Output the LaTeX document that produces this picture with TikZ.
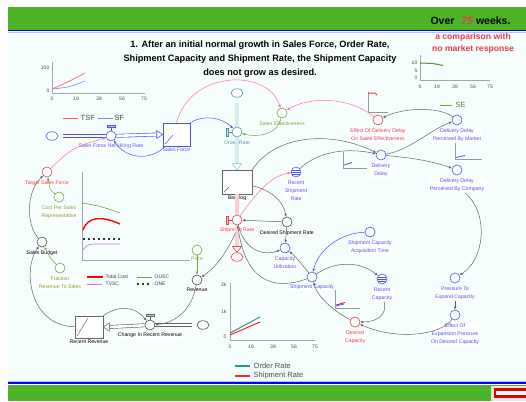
\documentclass[tikz,border=0pt]{standalone}
\usepackage{fontspec}
\setmainfont{Liberation Sans}
\usetikzlibrary{arrows.meta,shapes.geometric}
\definecolor{BarGreen}{RGB}{76,180,38}
\definecolor{PanelBg}{RGB}{245,253,253}
\definecolor{FlowBlue}{RGB}{80,80,245}
\definecolor{FlowRed}{RGB}{238,60,70}
\definecolor{LinkPink}{RGB}{255,110,165}
\definecolor{AuxGreen}{RGB}{115,165,55}
\definecolor{OrderTeal}{RGB}{135,200,200}
\definecolor{TealText}{RGB}{70,150,160}
\definecolor{TealLine}{RGB}{40,150,150}
\definecolor{LinkGray}{RGB}{100,100,100}
\definecolor{CostPurple}{RGB}{190,120,220}
\tikzset{
	aux/.style={circle,draw,fill=white,inner sep=0pt,minimum size=10pt,line width=0.6pt},
	ring/.style={aux,path picture={
		\foreach \h in {-2.2,0,2.2}
			\draw[line width=0.4pt] ([yshift=\h pt]path picture bounding box.west) -- ([yshift=\h pt]path picture bounding box.east);}},
	stock/.style={rectangle,draw,fill=white,line width=0.6pt,inner sep=0pt,
		path picture={\draw[line width=0.5pt] ([shift={(2pt,2pt)}]path picture bounding box.south west) -- ([shift={(#1)}]path picture bounding box.south west);}},
	sink/.style={ellipse,draw,fill=white,line width=0.6pt,minimum width=12pt,minimum height=8.5pt,inner sep=0pt},
	lab/.style={font=\fontsize{5.2}{8}\selectfont,align=center,inner sep=0.6pt,fill=white,label distance=3pt},
	link/.style={draw=LinkGray,line width=0.5pt,-{Latex[length=3pt,width=2.6pt]}},
	pipe/.style={line width=0.6pt,double distance=2.6pt},
	tick/.style={font=\fontsize{5}{5.5}\selectfont,text=black!70,inner sep=0.5pt},
	key/.style={font=\fontsize{7.5}{8}\selectfont,text=black!70,anchor=west,inner sep=0.5pt},
	smallkey/.style={font=\fontsize{5}{5.5}\selectfont,text=black!75,anchor=west,inner sep=0.5pt},
	axis/.style={draw=black!35,line width=0.7pt},
	minigraph/.style={draw=black!40,line width=0.5pt},
}

\begin{document}
\begin{tikzpicture}[x=1pt,y=-1pt]
	\useasboundingbox (0,0) rectangle (526,401);
	% frame and bars
	\fill[PanelBg] (8,31) rectangle (526,383);
	\fill[BarGreen] (8,7) rectangle (526,30);
	\draw[blue,line width=1.4pt] (8,30.5) -- (526,30.5);
	\draw[blue!25,line width=0.8pt] (8,32.4) -- (526,32.4);
	\draw[blue!25,line width=0.8pt] (8,381.2) -- (526,381.2);
	\draw[blue,line width=1.4pt] (8,383) -- (526,383);
	\fill[BarGreen] (8,384.5) rectangle (526,401);
	\fill[gray!20] (491,385.5) rectangle (526,401);
	\fill[red!90!black] (494,387.5) rectangle (526,398);
	\fill[white] (496,390.5) rectangle (526,395);

	\node[font=\bfseries\fontsize{10.5}{12}\selectfont,anchor=east] (weeks) at (514,20.5)
		{Over\hspace{7pt}\textcolor{FlowRed}{\itshape 75} weeks.};
	\node[font=\bfseries\fontsize{9.2}{14}\selectfont,align=center] (title) at (260,59)
		{1. After an initial normal growth in Sales Force, Order Rate,\\
		 Shipment Capacity and Shipment Rate, the Shipment Capacity\\
		 does not grow as desired.};

	% graph: TSF and SF
	\draw[axis] (52,62) -- (52,93) -- (145,93);
	\node[tick,anchor=east] (tlA) at (50,68) {100};
	\node[tick,anchor=east] (tlB) at (50,91) {0};
	\foreach \x/\t in {52/0,76/19,99/38,122/56,144/75}
		\node[tick] (tl\t) at (\x,98.5) {\t};
	\draw[red!65,line width=0.6pt] (52,89) .. controls (66,83) .. (85,73);
	\draw[FlowBlue!70,line width=0.6pt] (52,89) .. controls (70,87) .. (85,81);
	\draw[red!65,line width=0.8pt] (63,118) -- (78,118);
	\node[key] (tsfkey) at (80,118) {TSF};
	\draw[FlowBlue!70,line width=0.8pt] (98,118) -- (113,118);
	\node[key] (sfkey) at (114,118) {SF};

	% graph: SE
	\draw[axis] (420,55) -- (420,80) -- (490,80);
	\node[tick,anchor=east] (trA) at (418,63) {10};
	\node[tick,anchor=east] (trB) at (418,71) {5};
	\node[tick,anchor=east] (trC) at (418,78) {0};
	\foreach \x/\t in {420/0,437/19,455/38,473/56,490/75}
		\node[tick] (tr\t) at (\x,86.5) {\t};
	\draw[AuxGreen!85!black,line width=1pt] (420,63) -- (433,63.5) .. controls (438,64) .. (443,65.5);
	\draw[AuxGreen,line width=1pt] (440,105) -- (452,105);
	\node[key,text=AuxGreen!80!black] (sekey) at (455,105) {SE};
	\node[font=\bfseries\fontsize{8.6}{12.5}\selectfont,text=FlowRed,align=center] (note) at (473,43.5)
		{a comparison with\\no market response};

	% graph: sales costs
	\draw[axis] (82,172) -- (82,260) -- (190,260);
	\draw[AuxGreen,line width=0.6pt] (82,203) .. controls (100,206) .. (120,213);
	\draw[red,line width=1.4pt] (83,230) .. controls (88,216) and (102,216) .. (120,224);
	\draw[black!80,line width=1.6pt,dash pattern=on 1.6pt off 3.4pt] (83,239) -- (120,239);
	\draw[CostPurple,line width=0.6pt] (83,250) .. controls (88,244) .. (100,244) -- (120,244);
	\draw[red,line width=1.4pt] (87,277) -- (103,277);
	\node[smallkey] (tckey) at (105,277) {Total Cost};
	\draw[AuxGreen,line width=0.6pt] (137,277) -- (152,277);
	\node[smallkey] (oukey) at (154,277) {OUSC};
	\draw[CostPurple,line width=0.6pt] (87,284) -- (102,284);
	\node[smallkey] (tvkey) at (105,284) {TVSC};
	\draw[black!80,line width=1.6pt,dash pattern=on 1.6pt off 3.4pt] (137,284) -- (152,284);
	\node[smallkey] (onekey) at (154,284) {ONE};

	% graph: order and shipment rate
	\draw[axis] (230,283) -- (230,340) -- (315,340);
	\node[tick,anchor=east] (tbA) at (227,285) {2k};
	\node[tick,anchor=east] (tbB) at (227,312) {1k};
	\node[tick,anchor=east] (tbC) at (227,337) {0};
	\foreach \x/\t in {230/0,251/19,273/38,294/56,315/75}
		\node[tick] (tb\t) at (\x,346.5) {\t};
	\draw[TealLine,line width=1pt] (230,333) .. controls (245,325) .. (260,317);
	\draw[red!85,line width=1pt] (230,335) .. controls (245,329) .. (260,322);
	\draw[TealLine,line width=1.1pt] (235,366) -- (250,366);
	\node[key] (orkey) at (253,366) {Order Rate};
	\draw[red!85,line width=1.1pt] (235,376) -- (250,376);
	\node[key] (srkey) at (253,376) {Shipment Rate};

	% small graphs beside variables
	\draw[minigraph] (368,92) -- (368,112) -- (388,112);
	\draw[FlowRed,line width=1pt] (368,93) -- (375,93) -- (377,95);
	\draw[minigraph] (343,152) -- (343,168) -- (367,168);
	\draw[FlowBlue,line width=0.8pt] (344,165) .. controls (348,164) .. (352,162.5);
	\draw[minigraph] (455,140) -- (455,159) -- (482,159);
	\draw[FlowBlue,line width=0.8pt] (456,157.5) .. controls (460,156.5) .. (465,155.5);
	\draw[minigraph] (335,290) -- (335,308) -- (360,308);
	\draw[red,line width=0.8pt] (336,305) -- (345,302.5);
	\draw[FlowBlue,line width=0.8pt] (336,306) -- (344,304);

	% sales force chain
	\node[sink,draw=FlowBlue] (cloudL) at (52,136) {};
	\node[aux,draw=FlowBlue,label={[lab,text=FlowBlue,label distance=2pt]below:Sales Force Net Hiring Rate}] (sfnhr) at (111,136) {};
	\node[stock={10pt,11pt},draw=FlowBlue,minimum width=27pt,minimum height=23pt,
		label={[lab,text=FlowBlue,label distance=1pt]below:Sales Force}] (salesforce) at (176.5,134.5) {};
	\node[aux,draw=FlowRed,label={[lab,text=FlowRed]below:Target Sales Force}] (tsf) at (47,172) {};
	\node[aux,draw=AuxGreen,label={[lab,text=AuxGreen]below:{Cost Per Sales\\Representative}}] (costrep) at (59,197) {};
	\node[aux,draw=black!70,label={[lab]below:Sales Budget}] (budget) at (42,242) {};
	\node[aux,draw=AuxGreen,label={[lab,text=AuxGreen]below:{Fraction\\Revenue To Sales}}] (fraction) at (60,268) {};

	% revenue chain
	\node[stock={13pt,20pt},draw=black!60,minimum width=28pt,minimum height=22pt,
		label={[lab,label distance=1pt]below:Recent Revenue}] (recentrev) at (89,327) {};
	\node[aux,draw=black!70,label={[lab,label distance=2pt]below:Change In Recent Revenue}] (crr) at (150,325) {};
	\node[sink,draw=black!70] (cloudR) at (203,325) {};
	\node[aux,draw=black!70,label={[lab,label distance=1.5pt]below:Revenue}] (revenue) at (197,280) {};
	\node[aux,draw=AuxGreen,label={[lab,text=AuxGreen,label distance=1pt]below:Price}] (price) at (197,250) {};

	% order and shipment chain
	\node[sink,draw=TealText] (cloudT) at (237,93) {};
	\node[aux,draw=TealText,label={[lab,text=TealText,label distance=2.5pt]below:Order Rate}] (orderrate) at (237,132) {};
	\node[stock={7pt,7pt},draw=black!60,minimum width=30pt,minimum height=24pt,
		label={[lab,label distance=1pt]below:Backlog}] (backlog) at (237,182) {};
	\node[aux,draw=FlowRed,label={[lab,text=FlowRed,name=shiprateLab,label distance=1.5pt]below:Shipment Rate}] (shiprate) at (237,220) {};
	\node[sink,draw=FlowRed] (cloudB) at (237,257) {};
	\node[aux,draw=AuxGreen,label={[lab,text=AuxGreen]below:Sales Effectiveness}] (saleseff) at (282,113) {};
	\node[ring,draw=FlowBlue,label={[lab,text=FlowBlue]below:{Recent\\Shipment\\Rate}}] (recentship) at (296,172) {};
	\node[aux,draw=black!70,label={[lab,label distance=2.5pt]below:Desired Shipment Rate}] (desship) at (287,222) {};
	\node[aux,draw=FlowBlue,label={[lab,text=FlowBlue]below:{Capacity\\Utilization}}] (caputil) at (285,248) {};

	% capacity chain
	\node[aux,draw=FlowBlue,label={[lab,text=FlowBlue,label distance=2pt]below:Shipment Capacity}] (shipcap) at (312,277) {};
	\node[aux,draw=FlowBlue,label={[lab,text=FlowBlue]below:{Shipment Capacity\\Acquisition Time}}] (acqtime) at (370,232) {};
	\node[ring,draw=FlowBlue,label={[lab,text=FlowBlue,name=reccapLab]below:{Recent\\Capacity}}] (reccap) at (382,279) {};
	\node[aux,draw=FlowRed,label={[lab,text=FlowRed]below:{Desired\\Capacity}}] (descap) at (355,322) {};
	\node[aux,draw=FlowBlue,label={[lab,text=FlowBlue,name=pressureLab]below:{Pressure To\\Expand Capacity}}] (pressure) at (455,278) {};
	\node[aux,draw=FlowBlue,label={[lab,text=FlowBlue]below:{Effect Of\\Expansion Pressure\\On Desired Capacity}}] (effexp) at (455,315) {};

	% delivery delay chain
	\node[aux,draw=FlowBlue,label={[lab,text=FlowBlue]below:{Delivery\\Delay}}] (deldelay) at (381,155) {};
	\node[aux,draw=FlowRed,label={[lab,text=FlowRed]below:{Effect Of Delivery Delay\\On Sales Effectiveness}}] (effdel) at (378,120) {};
	\node[aux,draw=FlowBlue,label={[lab,text=FlowBlue]below:{Delivery Delay\\Perceived By Market}}] (ddmarket) at (457,120) {};
	\node[aux,draw=FlowBlue,label={[lab,text=FlowBlue,name=ddcompanyLab]below:{Delivery Delay\\Perceived By Company}}] (ddcompany) at (457,170) {};

	% pipes
	\draw[pipe,draw=FlowBlue,double=white] ([xshift=5pt]cloudL.east) -- (sfnhr);
	\draw[pipe,draw=FlowBlue,double=white] (sfnhr) -- ([xshift=-6pt]salesforce.west);
	\draw[FlowBlue,fill=white,line width=0.6pt] ([shift={(-6pt,4pt)}]salesforce.west) -- (salesforce.west) -- ([shift={(-6pt,-4pt)}]salesforce.west) -- cycle;
	\draw[pipe,draw=OrderTeal,double=OrderTeal!35,double distance=3.6pt] ([yshift=-5pt]cloudT.south) -- (orderrate);
	\draw[pipe,draw=OrderTeal,double=OrderTeal!35,double distance=3.6pt] (orderrate) -- ([yshift=6pt]backlog.north);
	\draw[OrderTeal,fill=white,line width=0.6pt] ([shift={(-4.5pt,6pt)}]backlog.north) -- (backlog.north) -- ([shift={(4.5pt,6pt)}]backlog.north) -- cycle;
	\draw[pipe,draw=FlowRed,double=FlowRed!25,double distance=3.6pt] (backlog) -- (shiprate);
	\draw[pipe,draw=FlowRed,double=FlowRed!25,double distance=3.6pt] (shiprate) -- ([yshift=6pt]cloudB.north);
	\draw[FlowRed,fill=white,line width=0.6pt] ([shift={(-4.5pt,6pt)}]cloudB.north) -- (cloudB.north) -- ([shift={(4.5pt,6pt)}]cloudB.north) -- cycle;
	\draw[pipe,draw=black!60,double=white] ([xshift=-5pt]cloudR.west) -- (crr);
	\draw[pipe,draw=black!60,double=white] (crr) -- ([xshift=6pt]recentrev.east);
	\draw[black!60,fill=white,line width=0.6pt] ([shift={(6pt,4pt)}]recentrev.east) -- (recentrev.east) -- ([shift={(6pt,-4pt)}]recentrev.east) -- cycle;

	% valve bars
	\draw[FlowBlue,line width=0.5pt] (sfnhr.north) -- ([yshift=3.5pt]sfnhr.north);
	\draw[FlowBlue,fill=FlowBlue!40,line width=0.5pt] ([shift={(-4pt,3.5pt)}]sfnhr.north) rectangle ([shift={(4pt,5.5pt)}]sfnhr.north);
	\draw[black!60,line width=0.5pt] (crr.north) -- ([yshift=3.5pt]crr.north);
	\draw[black!60,fill=black!20,line width=0.5pt] ([shift={(-4pt,3.5pt)}]crr.north) rectangle ([shift={(4pt,5.5pt)}]crr.north);
	\draw[TealText,line width=0.5pt] (orderrate.west) -- ([xshift=-3.5pt]orderrate.west);
	\draw[TealText,fill=OrderTeal!50,line width=0.5pt] ([shift={(-3.5pt,-4pt)}]orderrate.west) rectangle ([shift={(-5.5pt,4pt)}]orderrate.west);
	\draw[FlowRed,line width=0.5pt] (shiprate.west) -- ([xshift=-3.5pt]shiprate.west);
	\draw[FlowRed,fill=FlowRed!30,line width=0.5pt] ([shift={(-3.5pt,-4pt)}]shiprate.west) rectangle ([shift={(-5.5pt,4pt)}]shiprate.west);

	% connectors
	\draw[link,draw=LinkPink] (tsf) .. controls (72,148) .. (sfnhr);
	\draw[link,draw=FlowBlue] (salesforce) .. controls (150,162) and (125,158) .. (sfnhr);
	\draw[link,draw=AuxGreen] (costrep) .. controls (50,190) .. (tsf);
	\draw[link] (budget) .. controls (26,225) and (26,192) .. (tsf);
	\draw[link,draw=AuxGreen] (fraction) .. controls (50,258) .. (budget);
	\draw[link] (recentrev) .. controls (30,326) and (22,270) .. (budget);
	\draw[link] (recentrev.north east) .. controls (118,305) and (135,306) .. (crr);
	\draw[link] (revenue) .. controls (192,310) and (175,323) .. (crr);
	\draw[link,draw=AuxGreen] (price) -- (revenue);
	\draw[link] (shiprateLab) .. controls (225,255) and (215,268) .. (revenue);
	\draw[link,draw=FlowBlue] (salesforce.north east) .. controls (205,114) and (222,118) .. (orderrate);
	\draw[link,draw=AuxGreen] (saleseff) .. controls (278,134) and (258,138) .. (orderrate);
	\draw[link,draw=LinkPink] (salesforce.north) .. controls (190,70) and (268,68) .. (saleseff);
	\draw[link,draw=LinkPink] (effdel) .. controls (350,97) and (310,96) .. (saleseff);
	\draw[link] (backlog.north east) .. controls (275,135) and (330,130) .. (deldelay);
	\draw[link] (recentship) .. controls (320,150) and (350,148) .. (deldelay);
	\draw[link] (ddmarket) .. controls (440,107) and (405,107) .. (effdel);
	\draw[link] (deldelay) .. controls (410,150) and (430,130) .. (ddmarket);
	\draw[link] (deldelay) .. controls (415,158) and (435,162) .. (ddcompany);
	\draw[link] (ddcompanyLab) .. controls (490,215) and (484,260) .. (pressure);
	\draw[link] (pressureLab) -- (effexp);
	\draw[link] (effexp) .. controls (440,336) and (395,340) .. (descap);
	\draw[link] (reccapLab) .. controls (388,316) and (375,322) .. (descap);
	\draw[link] (shipcap) .. controls (335,261) and (360,261) .. (reccap);
	\draw[link] (descap) .. controls (335,312) and (318,298) .. (shipcap);
	\draw[link,draw=FlowBlue] (acqtime) .. controls (340,233) and (318,250) .. (shipcap);
	\draw[link,draw=LinkPink] (shiprate) .. controls (255,195) and (270,176) .. (recentship);
	\draw[link] (backlog) .. controls (270,190) and (283,200) .. (desship);
	\draw[link] (desship) -- (shiprate);
	\draw[link] (desship) -- (caputil);
	\draw[link] (shipcap) .. controls (300,262) and (295,256) .. (caputil);
	\draw[link] (shipcap) .. controls (270,292) and (245,278) .. (shiprate);
	\draw[link] (shiprate) .. controls (245,252) and (265,256) .. (caputil);
\end{tikzpicture}
\end{document}
